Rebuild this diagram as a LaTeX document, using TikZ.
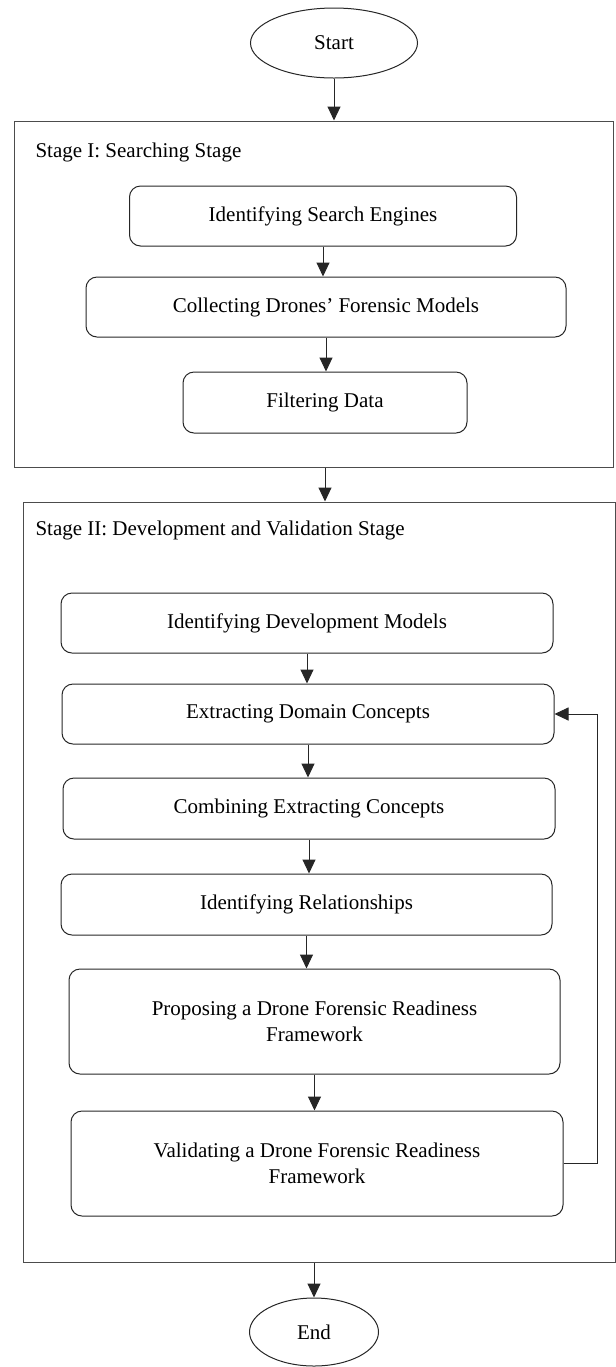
\documentclass[tikz,border=0pt]{standalone}
\usepackage{fontspec}
\setmainfont{Liberation Serif}
\usetikzlibrary{shapes.geometric,arrows.meta}

\tikzset{
  stepbox/.style={draw=black!85,rounded corners=5.5pt,align=center,inner sep=2pt},
  stagebox/.style={draw=black!70,inner sep=0pt},
  term/.style={draw=black!85,ellipse,inner sep=0pt},
  flow/.style={draw=black!85,-{Triangle[length=7pt,width=6.5pt]}}
}

\begin{document}
\begin{tikzpicture}[x=0.5pt,y=-0.5pt,line width=0.5pt,font=\fontsize{10.5}{13}\selectfont]
      \useasboundingbox (0,0) rectangle (616,1367);

      \node[term,minimum width=83.5pt,minimum height=35pt] (0) at (334,43) {Start};

      \node[stagebox,minimum width=299.5pt,minimum height=173pt] (s1) at (313.5,294) {};
      \node[anchor=west,inner sep=0pt] (l1) at (35,152) {Stage I: Searching Stage};
      \node[stepbox,minimum width=193.5pt,minimum height=30pt] (1) at (323,216) {Identifying Search Engines};
      \node[stepbox,minimum width=240pt,minimum height=30pt] (2) at (326,307) {Collecting Drones’ Forensic Models};
      \node[stepbox,minimum width=142pt,minimum height=30.5pt] (3) at (325,402.5) {Filtering Data};

      \node[stagebox,minimum width=296.25pt,minimum height=380pt] (s2) at (319.25,882) {};
      \node[anchor=west,inner sep=0pt] (l2) at (35,530) {Stage II: Development and Validation Stage};
      \node[stepbox,minimum width=246pt,minimum height=30pt] (4) at (307,623) {Identifying Development Models};
      \node[stepbox,minimum width=246pt,minimum height=30pt] (5) at (308,714) {Extracting Domain Concepts};
      \node[stepbox,minimum width=246pt,minimum height=30.5pt] (6) at (309,808.5) {Combining Extracting Concepts};
      \node[stepbox,minimum width=245.5pt,minimum height=30.5pt] (7) at (306.5,904.5) {Identifying Relationships};
      \node[stepbox,minimum width=245.5pt,minimum height=52.5pt] (8) at (314.5,1021.5) {Proposing a Drone Forensic Readiness\\Framework};
      \node[stepbox,minimum width=246pt,minimum height=52.5pt] (9) at (317,1163.5) {Validating a Drone Forensic Readiness\\Framework};

      \node[term,minimum width=64.5pt,minimum height=34pt] (10) at (314,1332) {End};

      \draw[flow] (0) -- (0 |- s1.north);
      \draw[flow] (1.south) -- (1.south |- 2.north);
      \draw[flow] (2.south) -- (2.south |- 3.north);
      \draw[flow] (3.south |- s1.south) -- (3.south |- s2.north);
      \draw[flow] (4.south) -- (4.south |- 5.north);
      \draw[flow] (5.south) -- (5.south |- 6.north);
      \draw[flow] (6.south) -- (6.south |- 7.north);
      \draw[flow] (7.south) -- (7.south |- 8.north);
      \draw[flow] (8.south) -- (8.south |- 9.north);
      \draw[flow] (9.east) -- ++(17pt,0) |- (5.east);
      \draw[flow] (10 |- s2.south) -- (10.north);
    \end{tikzpicture}
\end{document}
